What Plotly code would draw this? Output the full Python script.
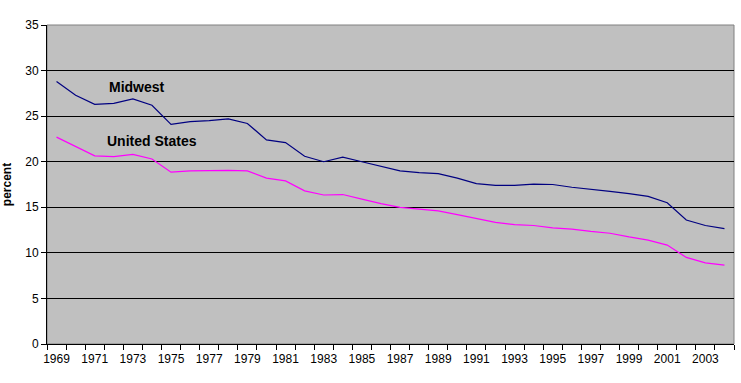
import plotly.graph_objects as go

years = list(range(1969, 2005))
midwest = [28.8, 27.3, 26.3, 26.4, 26.9, 26.2, 24.1, 24.4, 24.5, 24.7,
           24.2, 22.4, 22.1, 20.6, 20.0, 20.5, 20.0, 19.5, 19.0, 18.8,
           18.7, 18.2, 17.6, 17.4, 17.4, 17.55, 17.5, 17.2, 17.0, 16.75,
           16.5, 16.2, 15.5, 13.6, 13.0, 12.65]
us = [22.7, 21.65, 20.65, 20.55, 20.8, 20.3, 18.85, 19.0, 19.05, 19.05,
      19.0, 18.2, 17.9, 16.8, 16.35, 16.4, 15.9, 15.4, 15.0, 14.8,
      14.6, 14.2, 13.75, 13.35, 13.1, 13.0, 12.75, 12.6, 12.35, 12.15,
      11.75, 11.4, 10.85, 9.5, 8.9, 8.65]
tick_years = list(range(1969, 2005, 2))
y_ticks = [0, 5, 10, 15, 20, 25, 30, 35]

fig = go.Figure()
fig.add_trace(go.Scatter(x=years, y=midwest, mode="lines", name="Midwest",
                         line=dict(color="#000080", width=1.2)))
fig.add_trace(go.Scatter(x=years, y=us, mode="lines", name="United States",
                         line=dict(color="#FF00FF", width=1.2)))

fig.add_annotation(x=1973.2, y=28.2, text="<b>Midwest</b>", showarrow=False,
                   font=dict(family="Liberation Sans, Arial", size=14, color="black"))
fig.add_annotation(x=1974.0, y=22.3, text="<b>United States</b>", showarrow=False,
                   font=dict(family="Liberation Sans, Arial", size=14, color="black"))

fig.add_shape(type="rect", xref="paper", yref="paper", x0=0, y0=0, x1=1, y1=1,
              line=dict(color="#808080", width=1), layer="below")

fig.update_layout(
    width=741, height=383,
    margin=dict(l=47, r=7, t=25, b=39),
    paper_bgcolor="white",
    plot_bgcolor="#C0C0C0",
    showlegend=False,
    font=dict(family="Liberation Sans, Arial", size=12, color="black"),
    xaxis=dict(range=[1968.5, 2004.5], tickvals=tick_years,
               ticktext=[str(y) for y in tick_years],
               ticks="", showgrid=False, zeroline=False, automargin=False,
               showline=True, linecolor="black", linewidth=1,
               tickfont=dict(size=12), ticklabelstandoff=4,
               minor=dict(tick0=1968.5, dtick=1, ticks="outside", ticklen=5,
                          tickcolor="black", showgrid=False)),
    yaxis=dict(range=[0, 35], tickvals=y_ticks, ticks="outside", ticklen=5,
               tickcolor="black", showgrid=True, gridcolor="black", gridwidth=1,
               zeroline=False, showline=True, linecolor="black", linewidth=1,
               tickfont=dict(size=12), automargin=False,
               title=dict(text="<b>percent</b>", font=dict(size=12), standoff=12)),
)

fig.write_html("out.html", config={"displayModeBar": False},
               post_script="document.body.style.margin='0';document.body.style.padding='0';")
